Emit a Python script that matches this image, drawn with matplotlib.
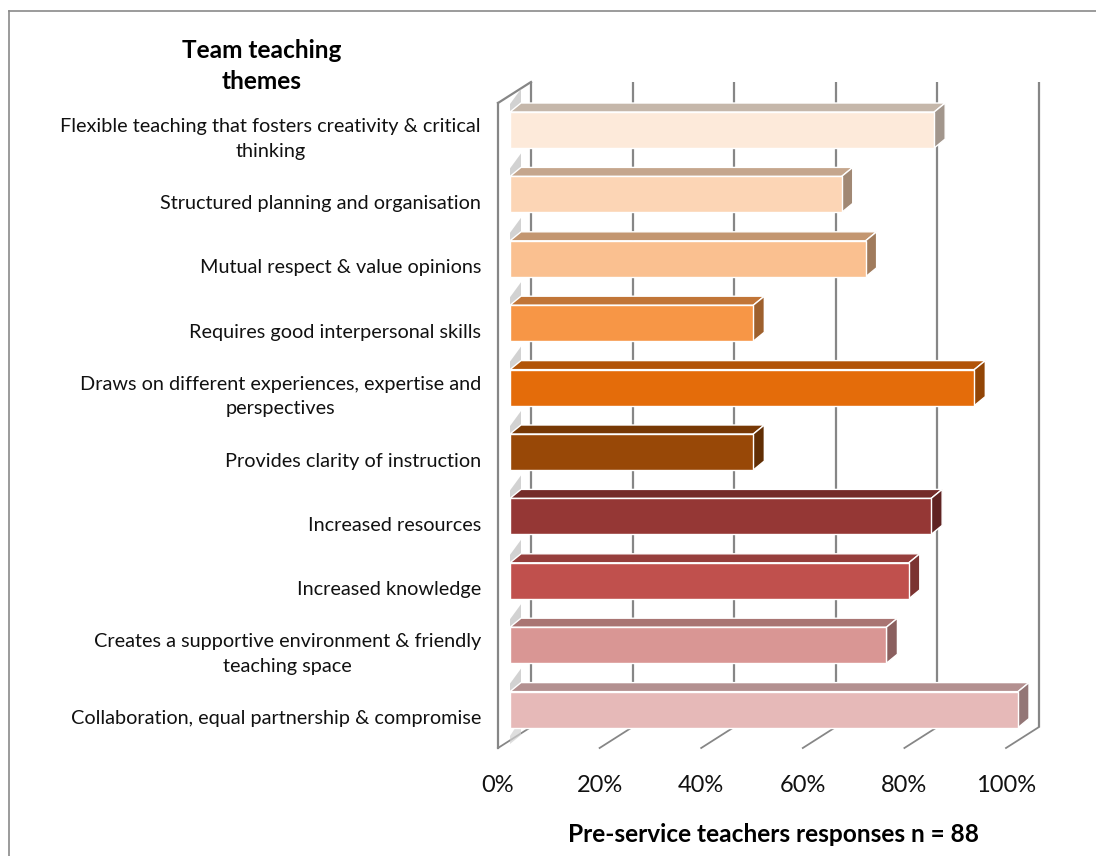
import matplotlib
matplotlib.use("Agg")
import matplotlib.pyplot as plt
from matplotlib.patches import Polygon
from matplotlib.lines import Line2D
import matplotlib.colors as mcolors

# ---------------- data ----------------
categories = [
    "Flexible teaching that fosters creativity & critical\nthinking",
    "Structured planning and organisation",
    "Mutual respect & value opinions",
    "Requires good interpersonal skills",
    "Draws on different experiences, expertise and\nperspectives",
    "Provides clarity of instruction",
    "Increased resources",
    "Increased knowledge",
    "Creates a supportive environment & friendly\nteaching space",
    "Collaboration, equal partnership & compromise",
]
values = [83.5, 65.3, 70.0, 47.9, 91.4, 47.9, 82.9, 78.5, 74.1, 100.0]
bar_colors = ["#FDEADA", "#FCD5B5", "#FAC090", "#F79646", "#E46C0A",
              "#984807", "#953735", "#C0504D", "#D99694", "#E6B9B8"]
tick_values = [0, 20, 40, 60, 80, 100]
tick_labels = ["0%", "20%", "40%", "60%", "80%", "100%"]
title = "Team teaching\nthemes"
xlabel = "Pre-service teachers responses n = 88"

# ---------------- layout (pixels) ----------------
W, H = 1096, 856
PX_PER_PCT = 5.08      # horizontal scale
X0_PX = 510            # bar front face 0% position
Y0_PX = 130            # centre of first bar front face
STEP_PX = 64.4         # category spacing

fig = plt.figure(figsize=(W / 100, H / 100), dpi=100)
ax = fig.add_axes([0, 0, 1, 1])
ax.set_xlim((0 - X0_PX) / PX_PER_PCT, (W - X0_PX) / PX_PER_PCT)
ax.set_ylim((H - Y0_PX) / STEP_PX, (0 - Y0_PX) / STEP_PX)
ax.axis("off")

def px_x(p):
    return p / PX_PER_PCT

def px_y(p):
    return p / STEP_PX

# depth parameters
FRONT_DX = px_x(-12)          # floor front relative to bar face
WALL_DX, WALL_DY = px_x(33), px_y(-21)
BAR_DX, BAR_DY = px_x(11), px_y(-9)
BAR_H = px_y(36)
floor_front_y = px_y(748 - Y0_PX)
floor_back_y = floor_front_y + WALL_DY
wall_top_back_y = px_y(82 - Y0_PX)
wall_top_front_y = wall_top_back_y - WALL_DY

grid_color = "#868686"
grid_lw = 1.6

# back wall gridlines and floor diagonals
for t in tick_values:
    xb = FRONT_DX + WALL_DX + t
    ax.plot([xb, xb], [floor_back_y, wall_top_back_y], color=grid_color,
            lw=grid_lw, zorder=1, solid_capstyle="butt")
    xf = FRONT_DX + t
    ax.plot([xf, xb], [floor_front_y, floor_back_y], color=grid_color,
            lw=grid_lw * 0.8, zorder=1)

# left wall outline
xl = FRONT_DX
ax.plot([xl, xl], [floor_front_y, wall_top_front_y], color=grid_color,
        lw=grid_lw, zorder=1)
ax.plot([xl, xl + WALL_DX], [wall_top_front_y, wall_top_back_y],
        color=grid_color, lw=grid_lw, zorder=1)

def shade(c, f):
    r, g, b = mcolors.to_rgb(c)
    return (r * f, g * f, b * f)

# bars
for i, (v, c) in enumerate(zip(values, bar_colors)):
    top = i - BAR_H / 2
    bot = i + BAR_H / 2
    sh = Polygon([(0, top), (BAR_DX, top + BAR_DY),
                  (BAR_DX, top + BAR_DY - px_y(14)), (0, top - px_y(8))],
                 closed=True, facecolor="#c4c4c4", edgecolor="none",
                 alpha=0.75, zorder=2)
    ax.add_patch(sh)
    ax.barh(i, v, height=BAR_H, left=0, color=c, edgecolor="white",
            linewidth=1.0, zorder=4)
    topface = Polygon([(0, top), (v, top), (v + BAR_DX, top + BAR_DY),
                       (BAR_DX, top + BAR_DY)], closed=True,
                      facecolor=shade(c, 0.78), edgecolor="white",
                      linewidth=1.0, zorder=3)
    ax.add_patch(topface)
    side = Polygon([(v, top), (v + BAR_DX, top + BAR_DY),
                    (v + BAR_DX, bot + BAR_DY), (v, bot)], closed=True,
                   facecolor=shade(c, 0.64), edgecolor="white",
                   linewidth=1.0, zorder=3)
    ax.add_patch(side)

# shadow below last bar
i = len(values)
top = i - BAR_H / 2 - px_y(28)
ax.add_patch(Polygon([(0, top + px_y(16)), (BAR_DX, top + px_y(16) + BAR_DY),
                      (BAR_DX, top + BAR_DY), (0, top + px_y(8))],
                     closed=True, facecolor="#d0d0d0", edgecolor="none",
                     alpha=0.7, zorder=2))

# category labels
label_font = "Lato"
for i, lab in enumerate(categories):
    ax.text(px_x(481 - X0_PX), i + px_y(9), lab, ha="right", va="center",
            multialignment="center", fontsize=14.3, family=label_font,
            color="#111111", linespacing=1.55, zorder=5)

# tick labels
for t, tl in zip(tick_values, tick_labels):
    ax.text(FRONT_DX + t, px_y(785 - Y0_PX), tl, ha="center", va="center",
            fontsize=17, family=label_font, color="#111111")

# axis title
ax.text(px_x(773 - X0_PX), px_y(835 - Y0_PX), xlabel, ha="center",
        va="center", fontsize=17.6, family=label_font, fontweight="bold",
        color="#000000")

# chart title
ax.text(px_x(262 - X0_PX), px_y(66 - Y0_PX), title, ha="center",
        va="center", fontsize=17.6, family=label_font, fontweight="bold",
        color="#000000", linespacing=1.45)

# outer frame
fig.add_artist(Line2D([8.5 / W, 8.5 / W], [0, (H - 11) / H],
                      transform=fig.transFigure, color="#8a8a8a", lw=1.2))
fig.add_artist(Line2D([8.5 / W, 1], [(H - 11) / H, (H - 11) / H],
                      transform=fig.transFigure, color="#8a8a8a", lw=1.2))

fig.savefig("out.png", dpi=100)
